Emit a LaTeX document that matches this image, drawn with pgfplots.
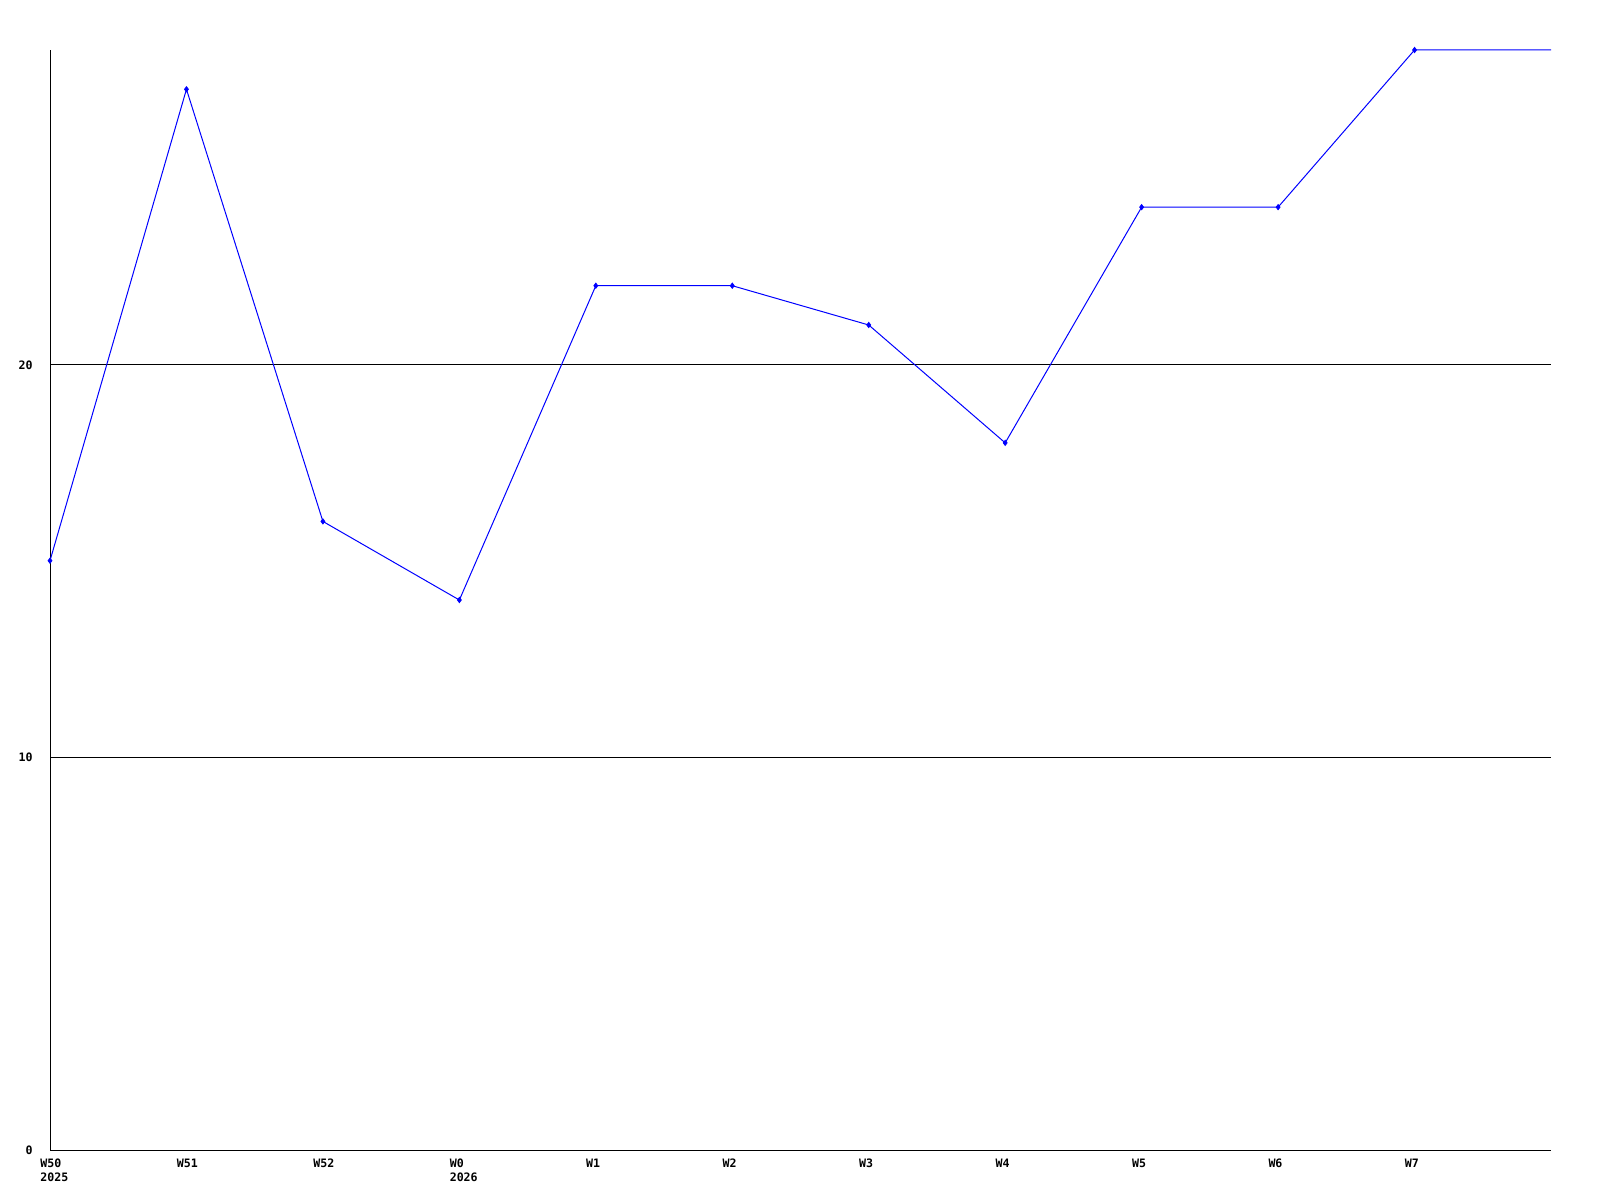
\documentclass[border=0pt]{standalone}
\usepackage{pgfplots}
\pgfplotsset{compat=1.18}
\usepackage{fontspec}
\setmainfont{DejaVu Sans Mono}
\begin{document}
\begin{tikzpicture}
\path (0,0) rectangle (800pt,600pt);
\begin{axis}[
  at={(25pt,25pt)}, anchor=south west,
  scale only axis, width=750.5pt, height=550pt,
  xmin=0, xmax=11, ymin=0, ymax=28,
  axis x line=bottom, axis y line=left,
  axis line style={-, black, line width=0.5pt},
  xtick={0,...,10},
  xticklabels={{W50\\2025},W51,W52,{W0\\2026},W1,W2,W3,W4,W5,W6,W7},
  ytick={0,10,20},
  major tick length=0pt,
  ymajorgrids, grid style={black, line width=0.5pt},
  tick label style={font=\fontsize{5.8}{7}\selectfont\bfseries},
  xticklabel style={anchor=north west, align=left, inner sep=0pt, xshift=-5pt, yshift=-3.6pt},
  typeset ticklabels with strut,
  yticklabel style={anchor=east, inner sep=0pt, xshift=-8.5pt, yshift=-1pt},
  /pgf/number format/assume math mode=true,
  clip=false,
]
\addplot[blue, line width=0.5pt, mark=none] coordinates {
(0,15) (1,27) (2,16) (3,14) (4,22) (5,22) (6,21) (7,18) (8,24) (9,24) (10,28) (11,28)};
\addplot[blue, only marks, mark=diamond*, mark size=1.3pt] coordinates {
(0,15) (1,27) (2,16) (3,14) (4,22) (5,22) (6,21) (7,18) (8,24) (9,24) (10,28)};
\end{axis}
\end{tikzpicture}
\end{document}
